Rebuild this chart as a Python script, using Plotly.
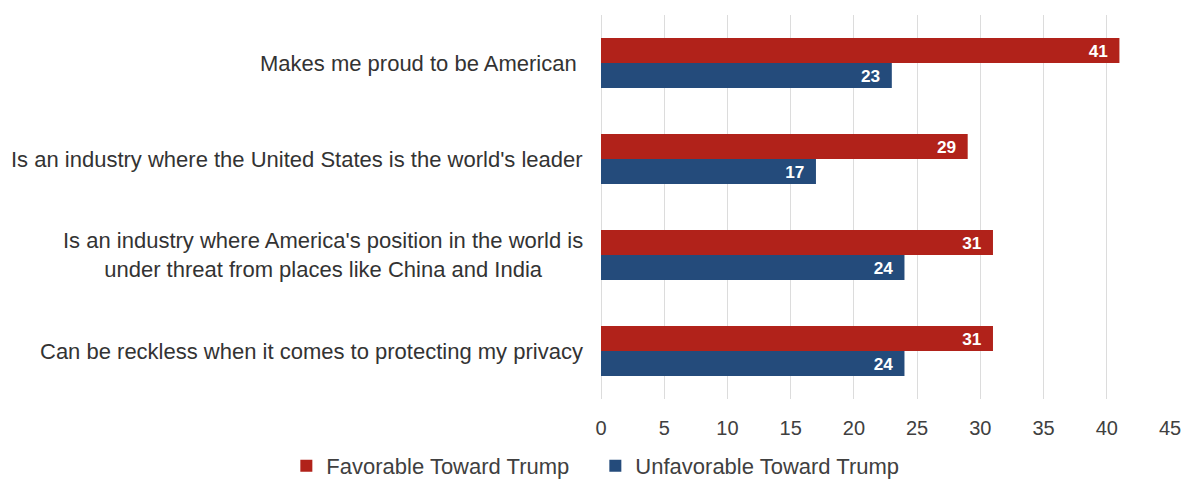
import plotly.graph_objects as go

categories = [
    "Makes me proud to be American ",
    "Is an industry where the United States is the world's leader",
    "Is an industry where America's position in the world is<br>under threat from places like China and India",
    "Can be reckless when it comes to protecting my privacy",
]
favorable = [41, 29, 31, 31]
unfavorable = [23, 17, 24, 24]
series_names = ["Favorable Toward Trump", "Unfavorable Toward Trump"]
x_ticks = [0, 5, 10, 15, 20, 25, 30, 35, 40, 45]

RED = "#B1221A"
BLUE = "#244B7B"
FONT = "Liberation Sans, Arial, sans-serif"

fig = go.Figure()
for name, vals, col in [(series_names[0], favorable, RED), (series_names[1], unfavorable, BLUE)]:
    fig.add_trace(go.Bar(
        y=categories, x=vals, name=name, orientation="h",
        marker=dict(color=col, line=dict(width=0)),
        texttemplate="%{x}\u2002", textposition="inside", insidetextanchor="end",
        textfont=dict(color="white", size=20, family=FONT, weight="bold"),
        cliponaxis=False,
    ))

for c in categories:
    fig.add_annotation(
        x=0, xref="paper", y=c, yref="y", text=c, showarrow=False,
        xanchor="right", xshift=-16, align="center",
        font=dict(family=FONT, size=22, color="#333333"),
    )

fig.update_layout(
    width=1192, height=479,
    margin=dict(l=601, r=22, t=15, b=80, autoexpand=False),
    barmode="group", bargap=0.48, bargroupgap=0,
    plot_bgcolor="white", paper_bgcolor="white",
    font=dict(family=FONT, size=20, color="#404040"),
    showlegend=True,
    legend=dict(
        orientation="h", xref="paper", yref="paper",
        x=-0.553, xanchor="left", y=-0.1745, yanchor="middle",
        font=dict(size=22, color="#404040"), itemwidth=30,
        entrywidth=264, entrywidthmode="pixels",
        traceorder="normal", tracegroupgap=0,
        bgcolor="rgba(0,0,0,0)",
    ),
)
fig.update_xaxes(
    range=[0, 45], tickvals=x_ticks, showgrid=True, gridcolor="#DCDCDC", gridwidth=1,
    zeroline=True, zerolinecolor="#DCDCDC", zerolinewidth=1,
    ticks="outside", ticklen=11, tickcolor="rgba(0,0,0,0)",
    tickfont=dict(size=20, color="#404040"), showline=False, fixedrange=True,
)
fig.update_yaxes(
    autorange="reversed", showticklabels=False, showgrid=False, zeroline=False,
    showline=False,
)

fig.write_html("out.html")
